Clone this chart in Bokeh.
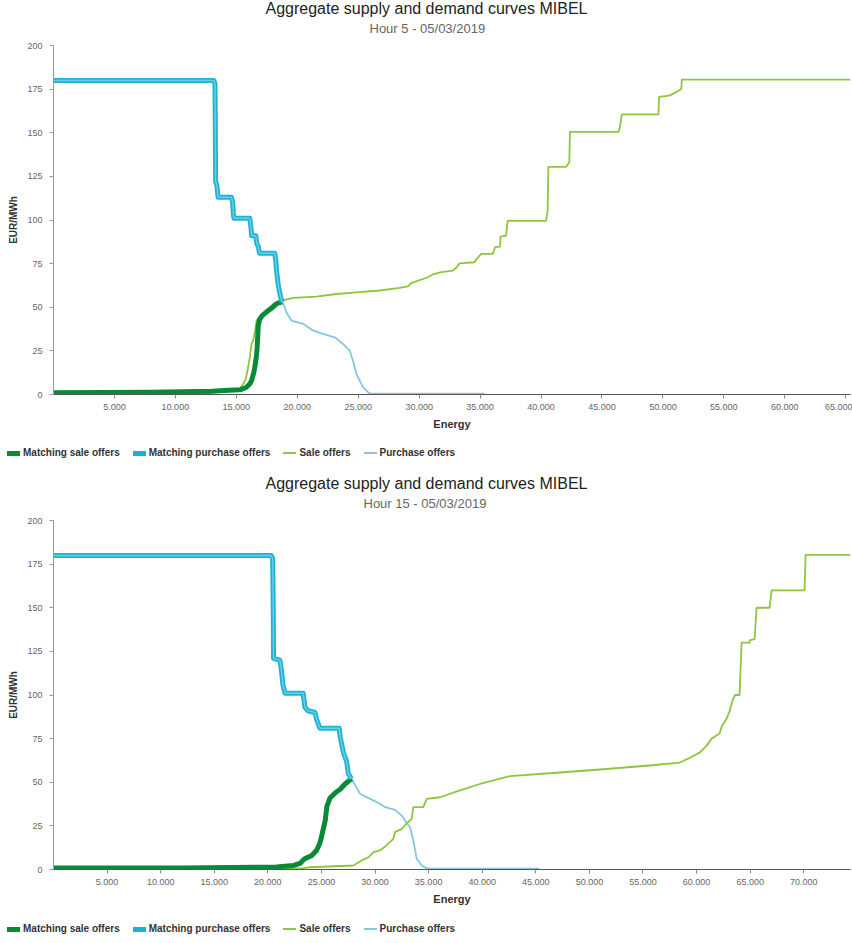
from bokeh.plotting import figure
from bokeh.models import Range1d, FixedTicker, Title, Div
from bokeh.layouts import column
from bokeh.embed import file_html
from bokeh.resources import INLINE

FONT = "Liberation Sans"
TITLE = "Aggregate supply and demand curves MIBEL"
SUBTITLE_H5 = "Hour 5 - 05/03/2019"
SUBTITLE_H15 = "Hour 15 - 05/03/2019"

Y_TICKS = [0, 25, 50, 75, 100, 125, 150, 175, 200]
X_TICKS_H5 = [5000, 10000, 15000, 20000, 25000, 30000, 35000, 40000, 45000, 50000, 55000, 60000, 65000]
X_TICKS_H15 = [5000, 10000, 15000, 20000, 25000, 30000, 35000, 40000, 45000, 50000, 55000, 60000, 65000, 70000]
X_MAX_H5 = 65390
X_MAX_H15 = 74360

LEGEND_LABELS = ["Matching sale offers", "Matching purchase offers", "Sale offers", "Purchase offers"]

# ---------------- Hour 5 ----------------
h5_match_sale_energy = [0, 8000, 13000, 14400, 15300, 15800, 16100, 16250, 16450, 16520, 16650, 16710, 16760, 16790,
                        16900, 17100, 17340, 17600, 17890, 18200, 18430, 18750]
h5_match_sale_price = [1, 1.3, 1.8, 2.5, 2.7, 4, 6, 8, 13, 16, 22, 27, 34, 39,
                       43, 45, 46.5, 48, 49.5, 51.5, 52.5, 53]

h5_match_purchase_energy = [0, 13150, 13250, 13280, 13300, 13400, 13500, 14600, 14700, 14750, 14800, 16100, 16200,
                            16250, 16600, 16650, 16700, 16800, 16900, 18150, 18250, 18300, 18430, 18600, 18750]
h5_match_purchase_price = [180, 180, 178, 150, 122, 120, 113, 113, 110, 104, 101, 101, 96,
                           91, 91, 88, 86, 85, 81, 81, 76, 71, 63, 57, 53]

h5_purchase_tail_energy = [18850, 19115, 19525, 20475, 21290, 22110, 23070, 23750, 24300, 24570, 24850, 25390,
                           25800, 26000, 35360]
h5_purchase_tail_price = [52, 47, 42.4, 40.5, 36.7, 34.8, 32.8, 29, 25.2, 19.5, 11.9, 4.2,
                          1.3, 0.5, 0.5]

h5_sale_energy = [0, 12000, 13100, 14470, 15290, 15560, 15780, 15970, 16110, 16250, 16380, 16520, 16660, 17070,
                  17610, 18160, 18570, 18840, 19660, 21570, 23210, 24850, 26760, 28390, 29075, 29350, 30710,
                  31120, 31810, 32760, 33090, 33310, 34540, 34680, 35090, 36040, 36230, 36640, 36670, 37130,
                  37260, 40410, 40540, 40600, 42050, 42320, 42370, 46360, 46490, 46630, 49630, 49690, 50510,
                  50920, 51330, 51510, 51550, 65390]
h5_sale_price = [0.3, 0.7, 1.2, 2.3, 3.4, 6, 9, 15.6, 21.4, 29, 31, 35.7, 42.4, 45.3,
                 47, 50, 52.9, 53.9, 55.4, 56.1, 57.6, 58.5, 59.6, 61.1, 61.9, 63.8, 67.2,
                 68.8, 70.1, 71, 72.9, 75.2, 75.8, 77.4, 80.6, 80.6, 84.4, 84.8, 90.5, 91.1,
                 99.5, 99.5, 105, 130.5, 130.5, 133, 150.5, 150.5, 154, 160.5, 160.5, 170.5, 171.3,
                 172.7, 174.2, 175.2, 180.5, 180.5]

# ---------------- Hour 15 ----------------
h15_match_sale_energy = [0, 12000, 20800, 22400, 23000, 23400, 24100, 24550, 24850, 25050, 25350, 25500, 25800,
                         26300, 26750, 27200, 27800]
h15_match_sale_price = [0.8, 0.8, 1.5, 2.3, 3.5, 6, 8, 11, 15, 20, 28, 36, 41,
                        44, 46, 49, 52]

h15_match_purchase_energy = [0, 20300, 20450, 20500, 20530, 21100, 21150, 21250, 21400, 21600, 23300, 23450,
                             23750, 24400, 24550, 24850, 26650, 26750, 27050, 27350, 27500, 27800]
h15_match_purchase_price = [180, 180, 178, 150, 121, 120, 119, 115, 106, 101, 101, 93,
                            91, 90, 86, 81, 81, 76, 67, 62, 55, 52]

h15_purchase_tail_energy = [28600, 29540, 30470, 30940, 31870, 32490, 32960, 33270, 33570, 33890, 34360, 34820,
                            35200, 45300]
h15_purchase_tail_price = [43.4, 40.5, 37.7, 35.7, 34.2, 30.9, 26.5, 24.2, 16.6, 6.1, 2.3, 0.8,
                           0.5, 0.5]

h15_sale_energy = [0, 15000, 23320, 23950, 27980, 28760, 29380, 29850, 30470, 30940, 31710, 31870, 32490, 32960,
                   33420, 33570, 34500, 34820, 36060, 37920, 39790, 42580, 47240, 50970, 55630, 58420, 59360,
                   60290, 60940, 61410, 62150, 62340, 62810, 63090, 63360, 63600, 64010, 64200, 64940, 65000,
                   65410, 65600, 66810, 67000, 70070, 70170, 74360]
h15_sale_price = [0.3, 0.5, 0.8, 1.3, 2.3, 5.2, 7, 9.9, 10.9, 13.2, 17.6, 21.4, 23.3, 26.5,
                  29, 35.7, 35.7, 40.5, 41.4, 45.3, 49, 53.5, 55.6, 57.3, 59.6, 61.3, 64,
                  67, 71, 75, 78, 82, 86.5, 91, 97, 100, 100, 130, 130, 131.5,
                  132, 150, 150, 160, 160, 180.3, 180.3]

C_MATCH_SALE = "#088a37"
C_MATCH_PURCH = "#1fb2d4"
C_MATCH_PURCH_IN = "#6ccde5"
C_SALE = "#8dc63f"
C_PURCH = "#86c6e1"
LEGEND_COLORS = [C_MATCH_SALE, "#12b4d8", C_SALE, C_PURCH]
LEGEND_THICK = [5, 5, 2, 2]

STYLE_MS = dict(line_color=C_MATCH_SALE, line_width=5, line_join="round")
STYLE_MP = dict(line_color=C_MATCH_PURCH, line_width=5, line_join="round")
STYLE_S = dict(line_color=C_SALE, line_width=1.8, line_join="round")
STYLE_P = dict(line_color=C_PURCH, line_width=1.8, line_join="round")


def fmt(t):
    return f"{t:,}".replace(",", ".")


def make_chart(subtitle, sub_offset, x_max, x_ticks,
               ms_e, ms_p, mp_e, mp_p, pt_e, pt_p, s_e, s_p):
    p = figure(width=852, height=440, output_backend="svg", toolbar_location=None,
               x_range=Range1d(0, x_max), y_range=Range1d(0, 200),
               min_border_left=53, min_border_right=2, min_border_top=45, min_border_bottom=46)
    p.grid.visible = False
    p.outline_line_color = None
    p.background_fill_color = "white"
    p.border_fill_color = "white"

    # axes
    p.xaxis.ticker = FixedTicker(ticks=x_ticks)
    p.xaxis.major_label_overrides = {t: fmt(t) for t in x_ticks}
    p.yaxis.ticker = FixedTicker(ticks=Y_TICKS)
    for ax in (p.xaxis[0], p.yaxis[0]):
        ax.minor_tick_line_color = None
        ax.major_tick_in = 0
        ax.major_tick_out = 4
        ax.major_label_text_font = FONT
        ax.major_label_text_font_size = "9px"
        ax.major_label_text_color = "#666666"
        ax.axis_label_text_font = FONT
        ax.axis_label_text_font_style = "bold"
        ax.axis_label_text_color = "#333333"
    p.xaxis.major_label_standoff = 5
    p.xaxis.axis_label_standoff = 5
    p.yaxis.major_label_standoff = 7
    p.yaxis.axis_label_standoff = 5
    p.xaxis.axis_line_color = "#555555"
    p.xaxis.major_tick_line_color = "#888888"
    p.yaxis.axis_line_color = "#999999"
    p.yaxis.major_tick_line_color = "#999999"
    p.xaxis.axis_label = "Energy"
    p.xaxis.axis_label_text_font_size = "11px"
    p.yaxis.axis_label = "EUR/MWh"
    p.yaxis.axis_label_text_font_size = "10px"

    # titles (left aligned with offsets so they are centred on the page)
    p.add_layout(Title(text=subtitle, align="left", text_font=FONT, text_font_size="13px",
                       text_font_style="normal", text_color="#666666", offset=sub_offset,
                       standoff=20), "above")
    p.add_layout(Title(text=TITLE, align="left", text_font=FONT, text_font_size="16px",
                       text_font_style="normal", text_color="#222222", offset=212,
                       standoff=-17), "above")

    # series
    purch_e = mp_e + pt_e
    purch_p = mp_p + pt_p
    p.line(purch_e, purch_p, **STYLE_P)
    p.line(s_e, s_p, **STYLE_S)
    p.line(ms_e, ms_p, **STYLE_MS)
    p.line(mp_e, mp_p, **STYLE_MP)
    p.line(mp_e, mp_p, line_color=C_MATCH_PURCH_IN, line_width=1.5, line_join="round")
    return p


def make_legend(height, top):
    parts = []
    for i, (lab, col, th) in enumerate(zip(LEGEND_LABELS, LEGEND_COLORS, LEGEND_THICK)):
        gap = "0" if i == len(LEGEND_LABELS) - 1 else "13px"
        parts.append(
            f'<span style="display:inline-block;width:13px;height:{th}px;background:{col};'
            f'margin-right:3px;vertical-align:middle"></span>'
            f'<span style="margin-right:{gap};vertical-align:middle">{lab}</span>')
    html = (f'<div style="padding:{top}px 0 0 7px;font-family:\'{FONT}\';font-size:10px;'
            f'font-weight:bold;color:#333333;white-space:nowrap;line-height:12px;display:flex;'
            f'align-items:center">' + "".join(parts) + '</div>')
    return Div(text=html, width=852, height=height, margin=(0, 0, 0, 0))


p1 = make_chart(SUBTITLE_H5, 316, X_MAX_H5, X_TICKS_H5,
                h5_match_sale_energy, h5_match_sale_price,
                h5_match_purchase_energy, h5_match_purchase_price,
                h5_purchase_tail_energy, h5_purchase_tail_price,
                h5_sale_energy, h5_sale_price)
l1 = make_legend(35, 7)
p2 = make_chart(SUBTITLE_H15, 310, X_MAX_H15, X_TICKS_H15,
                h15_match_sale_energy, h15_match_sale_price,
                h15_match_purchase_energy, h15_match_purchase_price,
                h15_purchase_tail_energy, h15_purchase_tail_price,
                h15_sale_energy, h15_sale_price)
l2 = make_legend(28, 8)

layout = column(p1, l1, p2, l2, spacing=0)
open("out.html", "w").write(file_html(layout, INLINE))
